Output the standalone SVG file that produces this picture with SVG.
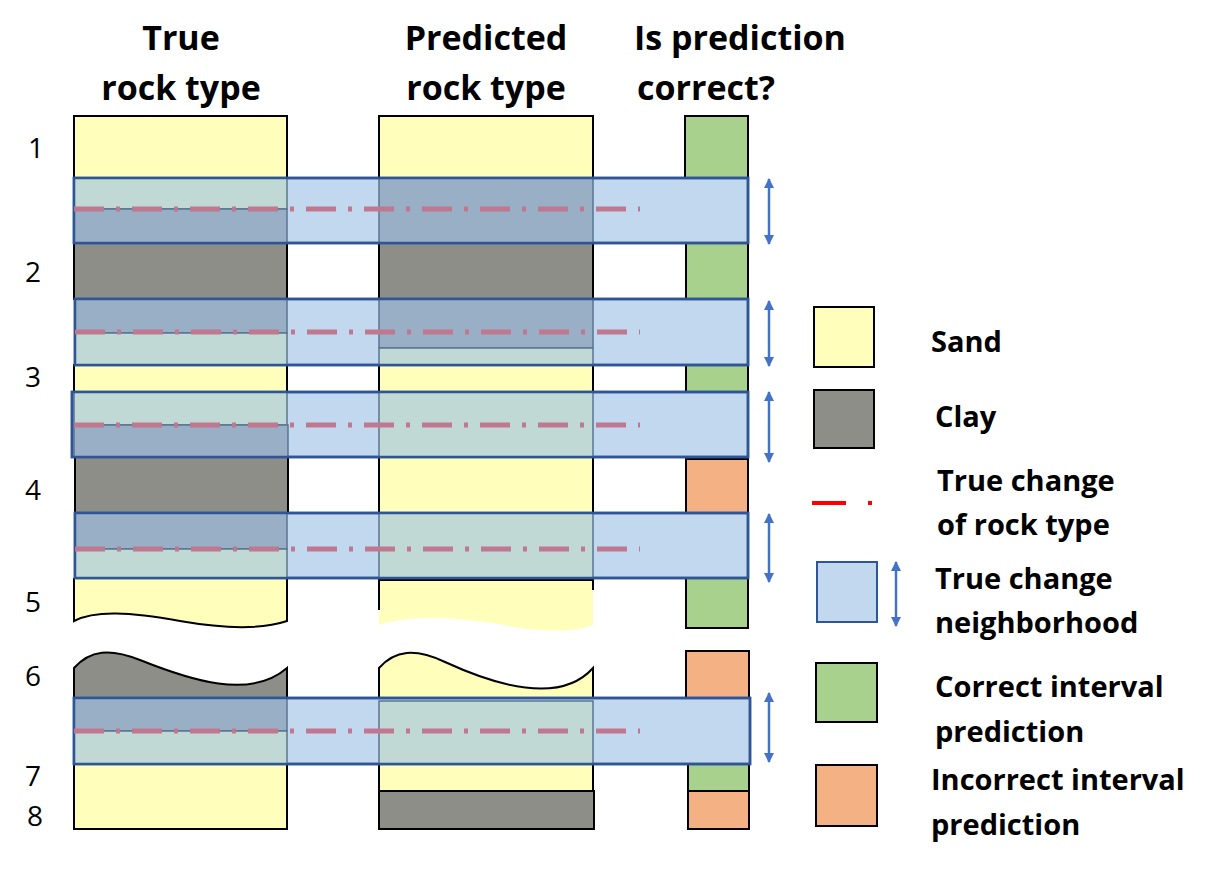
<svg xmlns="http://www.w3.org/2000/svg" width="1228" height="869" viewBox="0 0 1228 869">
<style>
.y{fill:#ffffbb;stroke:#000;stroke-width:2}
.g{fill:#8e8e88;stroke:#000;stroke-width:2}
.gr{fill:#a9d18e;stroke:#000;stroke-width:2}
.or{fill:#f4b183;stroke:#000;stroke-width:2}
.band{fill:#c2d8ee;stroke:#2f5597;stroke-width:2.5}
.oy{fill:#c0d9d5;stroke:#5a7590;stroke-width:1.5}
.og{fill:#99afc5;stroke:#5a7590;stroke-width:1.5}
.dl{stroke:#c07890;stroke-width:5;stroke-dasharray:30 12 4 12;fill:none}
.ar{stroke:#4472c4;stroke-width:2.5;marker-start:url(#ah);marker-end:url(#ah)}
text{font-family:"Open Sans","Liberation Sans",sans-serif;fill:#000}
.h{font-size:34px;font-weight:bold;text-anchor:middle}
.n{font-size:28px;text-anchor:middle}
.l{font-size:29px;font-weight:bold}
</style>
<defs>
<marker id="ah" viewBox="0 0 10 10" refX="9" refY="5" markerWidth="4" markerHeight="4" orient="auto-start-reverse"><path d="M0,0 L10,5 L0,10 z" fill="#4472c4"/></marker>
</defs>
<g id="headers">
<text class="h" x="181" y="50">True</text><text class="h" x="181" y="100">rock type</text>
<text class="h" x="486" y="50">Predicted</text><text class="h" x="486" y="100">rock type</text>
<text class="h" x="740" y="50">Is prediction</text><text class="h" x="706" y="100">correct?</text>
</g>
<g id="numbers">
<text class="n" x="36" y="158">1</text><text class="n" x="33" y="282">2</text><text class="n" x="33" y="387">3</text><text class="n" x="33" y="500">4</text><text class="n" x="33" y="612">5</text><text class="n" x="33" y="686">6</text><text class="n" x="33" y="786">7</text><text class="n" x="35" y="826">8</text>
</g>
<g id="true-column">
<rect class="y" x="74" y="116" width="213" height="62"/>
<rect class="g" x="74" y="243" width="213" height="56"/>
<rect class="y" x="74" y="365" width="213" height="27"/>
<rect class="g" x="75" y="457" width="213" height="56"/>
<path class="y" d="M74,578 V621 C95,610 130,612 180,621 C220,628 260,630 287,621 V578" />
<path class="g" d="M74,698 V668 C90,650 110,648 140,660 C190,680 250,700 287,668 V698 Z"/>
<rect class="y" x="74" y="764" width="213" height="65"/>
</g>
<g id="predicted-column">
<rect class="y" x="379" y="116" width="214" height="62"/>
<rect class="g" x="379" y="243" width="214" height="56"/>
<rect class="y" x="379" y="365" width="214" height="27"/>
<rect class="y" x="379" y="457" width="214" height="56"/>
<path d="M379,580 V625 C420,612 480,620 520,628 C560,633 580,630 593,625 V580 Z" fill="#ffffbb"/>
<path d="M379,610 V580 H593 V590" fill="none" stroke="#000" stroke-width="2"/>
<path class="y" d="M379,698 V668 C395,650 415,648 445,662 C495,685 560,705 593,668 V698 Z"/>
<rect class="y" x="379" y="764" width="214" height="27"/>
<rect class="g" x="379" y="791" width="215" height="38"/>
</g>
<g id="correct-column">
<rect class="gr" x="685" y="116" width="63" height="62"/>
<rect class="gr" x="686" y="243" width="62" height="56"/>
<rect class="gr" x="686" y="365" width="62" height="27"/>
<rect class="or" x="686" y="459" width="62" height="54"/>
<rect class="gr" x="686" y="578" width="62" height="50"/>
<rect class="or" x="686" y="651" width="63" height="47"/>
<rect class="gr" x="688" y="764" width="61" height="27"/>
<rect class="or" x="688" y="791" width="61" height="38"/>
</g>
<g id="bands">
<rect class="band" x="74" y="178" width="674" height="65"/>
<rect class="oy" x="74" y="178" width="213" height="31"/><rect class="og" x="74" y="209" width="213" height="34"/>
<rect class="og" x="379" y="178" width="214" height="65"/>
<rect class="band" x="75" y="299" width="673" height="66"/>
<rect class="og" x="75" y="299" width="212" height="34"/><rect class="oy" x="75" y="333" width="212" height="32"/>
<rect class="og" x="379" y="299" width="214" height="49"/><rect class="oy" x="379" y="348" width="214" height="17"/>
<rect class="band" x="72" y="392" width="676" height="65"/>
<rect class="oy" x="74" y="392" width="213" height="33"/><rect class="og" x="74" y="425" width="214" height="32"/>
<rect class="oy" x="379" y="392" width="214" height="65"/>
<rect class="band" x="75" y="513" width="673" height="65"/>
<rect class="og" x="75" y="513" width="212" height="36"/><rect class="oy" x="75" y="549" width="212" height="29"/>
<rect class="oy" x="379" y="513" width="214" height="65"/>
<rect class="band" x="74" y="698" width="676" height="66"/>
<rect class="og" x="74" y="698" width="213" height="33"/><rect class="oy" x="74" y="731" width="213" height="33"/>
<rect class="oy" x="379" y="701" width="214" height="63"/>
<rect x="74" y="178" width="674" height="65" fill="none" stroke="#2f5597" stroke-width="2.5"/>
<rect x="75" y="299" width="673" height="66" fill="none" stroke="#2f5597" stroke-width="2.5"/>
<rect x="72" y="392" width="676" height="65" fill="none" stroke="#2f5597" stroke-width="2.5"/>
<rect x="75" y="513" width="673" height="65" fill="none" stroke="#2f5597" stroke-width="2.5"/>
<rect x="74" y="698" width="676" height="66" fill="none" stroke="#2f5597" stroke-width="2.5"/>
</g>
<g id="connectors">
<line class="dl" x1="74" y1="209" x2="640" y2="209"/>
<line class="dl" x1="75" y1="332" x2="640" y2="332"/>
<line class="dl" x1="74" y1="425" x2="640" y2="425"/>
<line class="dl" x1="75" y1="549" x2="640" y2="549"/>
<line class="dl" x1="74" y1="731" x2="640" y2="731"/>
<line class="ar" x1="769" y1="179" x2="769" y2="244"/>
<line class="ar" x1="769" y1="301" x2="769" y2="366"/>
<line class="ar" x1="769" y1="392" x2="769" y2="462"/>
<line class="ar" x1="769" y1="514" x2="769" y2="582"/>
<line class="ar" x1="769" y1="693" x2="769" y2="762"/>
</g>
<g id="legend">
<rect class="y" x="814" y="307" width="60" height="60"/><text class="l" x="931" y="352">Sand</text>
<rect class="g" x="814" y="390" width="60" height="58"/><text class="l" x="935" y="427">Clay</text>
<line x1="812" y1="503" x2="876" y2="503" stroke="#ff0000" stroke-width="4" stroke-dasharray="34 22 4 100"/>
<text class="l" x="937" y="491">True change</text><text class="l" x="937" y="535">of rock type</text>
<rect x="817" y="562" width="60" height="60" fill="#c2d8ee" stroke="#2f5597" stroke-width="2"/>
<line class="ar" x1="896" y1="562" x2="896" y2="626"/>
<text class="l" x="935" y="589">True change</text><text class="l" x="935" y="633">neighborhood</text>
<rect class="gr" x="816" y="663" width="61" height="59"/>
<text class="l" x="935" y="697">Correct interval</text><text class="l" x="935" y="742">prediction</text>
<rect class="or" x="816" y="765" width="61" height="61"/>
<text class="l" x="931" y="790">Incorrect interval</text><text class="l" x="931" y="835">prediction</text>
</g>
</svg>
